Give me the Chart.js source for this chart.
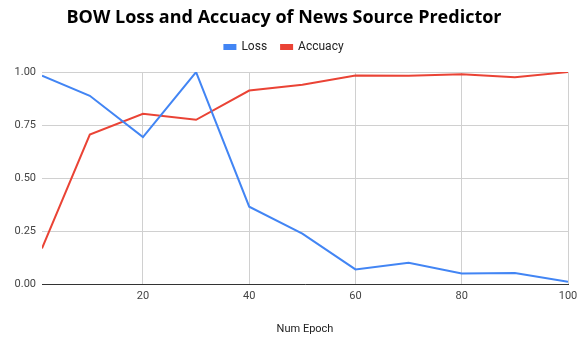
<!DOCTYPE html>
<html><head><meta charset="utf-8">
<script src="https://cdn.jsdelivr.net/npm/chart.js@4"></script>
<style>html,body{margin:0;padding:0;background:#fff}</style>
</head><body>
<canvas id="c" width="579" height="337"></canvas>
<script>
const epochs = [1, 10, 20, 30, 40, 50, 60, 70, 80, 90, 100];
const lossValues = [0.983, 0.888, 0.693, 1.0, 0.365, 0.238, 0.069, 0.100, 0.050, 0.052, 0.011];
const accuracyValues = [0.168, 0.705, 0.803, 0.775, 0.913, 0.940, 0.984, 0.983, 0.990, 0.976, 1.0];
const xTickValues = [20, 40, 60, 80, 100];
const yTickValues = [0, 0.25, 0.5, 0.75, 1];
const seriesNames = ['Loss', 'Accuacy'];

const pts = vals => epochs.map((e, i) => ({x: e, y: vals[i]}));

const legendSpace = {
  id: 'legendSpace',
  beforeLayout(chart) {
    const lg = chart.legend;
    if (lg && !lg._padWrapped) {
      const orig = lg.fit.bind(lg);
      lg.fit = function () { orig(); this.height += 9; };
      lg._padWrapped = true;
    }
  }
};

new Chart(document.getElementById('c'), {
  type: 'line',
  data: {
    datasets: [
      {label: seriesNames[0], data: pts(lossValues), borderColor: '#4285F4', backgroundColor: '#4285F4', borderWidth: 2, pointRadius: 0, tension: 0},
      {label: seriesNames[1], data: pts(accuracyValues), borderColor: '#EA4335', backgroundColor: '#EA4335', borderWidth: 2, pointRadius: 0, tension: 0}
    ]
  },
  plugins: [legendSpace],
  options: {
    responsive: false,
    devicePixelRatio: 1,
    animation: false,
    layout: {padding: {left: 0, right: 11, top: 0, bottom: 0}},
    plugins: {
      title: {display: true, text: 'BOW Loss and Accuacy of News Source Predictor', color: '#000',
        font: {family: 'Open Sans', size: 18, weight: 'bold'}, padding: {top: 7, bottom: -1.5}},
      legend: {display: true, position: 'top',
        labels: {boxWidth: 11, boxHeight: 4, color: '#222', font: {family: 'Roboto', size: 12}, padding: 14}},
      tooltip: {enabled: false}
    },
    scales: {
      x: {
        type: 'linear', min: 1, max: 100,
        afterBuildTicks: s => { s.ticks = xTickValues.map(v => ({value: v})); },
        afterFit: s => { s.height = 53; s.paddingLeft = 0; s.paddingRight = 0; },
        grid: {color: '#d0d0d0', drawTicks: false},
        border: {display: true, color: '#333', width: 1},
        ticks: {color: '#444', font: {family: 'Roboto', size: 11}, padding: 6, maxRotation: 0},
        title: {display: true, text: 'Num Epoch', color: '#222', font: {family: 'Roboto', size: 11}, padding: {top: 4, bottom: 1.5}}
      },
      y: {
        min: 0, max: 1,
        afterBuildTicks: s => { s.ticks = yTickValues.map(v => ({value: v})); },
        afterFit: s => { s.width = 42; s.paddingTop = 0; s.paddingBottom = 0; },
        grid: {color: '#d0d0d0', drawTicks: false},
        border: {display: false},
        ticks: {color: '#444', font: {family: 'Roboto', size: 11}, padding: 6, callback: v => Number(v).toFixed(2)}
      }
    }
  }
});
</script>
</body></html>
